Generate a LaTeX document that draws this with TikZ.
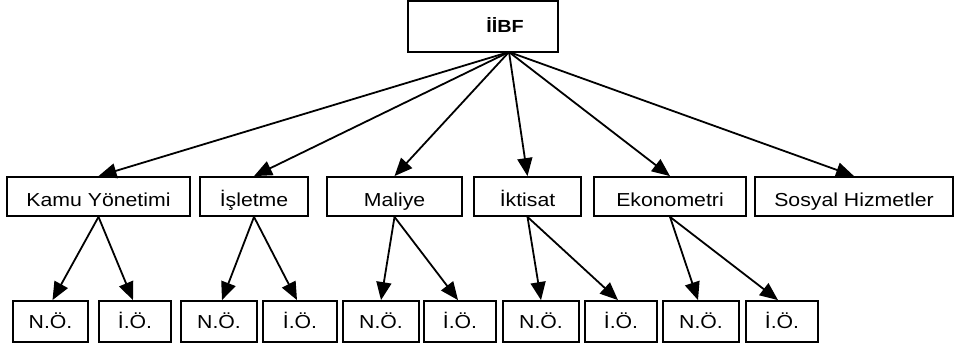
\documentclass[tikz,border=0pt]{standalone}
\usepackage{graphicx}
\usepackage{fontspec}
\setmainfont{Liberation Sans}
\usetikzlibrary{arrows.meta}
\newcommand\tx[1]{\scalebox{1.13}[1]{#1}}
\begin{document}
\begin{tikzpicture}[x=1pt,y=-1pt,
  box/.style={draw,line width=1.8pt,rectangle,inner sep=0pt,font=\fontsize{18.8}{20}\selectfont},
  mid/.style={box,minimum height=39pt,text height=19.3pt,text depth=0pt},
  leaf/.style={box,minimum height=41pt,text height=13.3pt,text depth=0pt},
  arr/.style={line width=1.8pt,-{Triangle[length=18pt,width=15pt]}}]
\useasboundingbox (0,0) rectangle (955,346);
\node[box,minimum width=150pt,minimum height=51pt,text height=11.5pt,text depth=0pt,font=\fontsize{17.5}{19}\selectfont\bfseries] (top) at (483,26.5) {\hspace*{44pt}\tx{İİBF}};
\coordinate (hub) at (509,52);
\node[mid,minimum width=183pt] (kamu) at (98.5,196.5) {\tx{Kamu Yönetimi}};
\node[mid,minimum width=108pt] (isl) at (254,196.5) {\tx{İşletme}};
\node[mid,minimum width=135pt] (mal) at (394.5,196.5) {\tx{Maliye}};
\node[mid,minimum width=107pt] (ikt) at (527.5,196.5) {\tx{İktisat}};
\node[mid,minimum width=152pt] (eko) at (670,196.5) {\tx{Ekonometri}};
\node[mid,minimum width=198pt] (sos) at (854,196.5) {\tx{Sosyal Hizmetler}};
\node[leaf,minimum width=75pt] (n1) at (50.5,321.5) {\tx{N.Ö.}};
\node[leaf,minimum width=72pt] (i1) at (135,321.5) {\tx{İ.Ö.}};
\node[leaf,minimum width=76pt] (n2) at (219,321.5) {\tx{N.Ö.}};
\node[leaf,minimum width=74pt] (i2) at (300,321.5) {\tx{İ.Ö.}};
\node[leaf,minimum width=76pt] (n3) at (381,321.5) {\tx{N.Ö.}};
\node[leaf,minimum width=72pt] (i3) at (460,321.5) {\tx{İ.Ö.}};
\node[leaf,minimum width=76pt] (n4) at (541,321.5) {\tx{N.Ö.}};
\node[leaf,minimum width=72pt] (i4) at (621,321.5) {\tx{İ.Ö.}};
\node[leaf,minimum width=76pt] (n5) at (701,321.5) {\tx{N.Ö.}};
\node[leaf,minimum width=72pt] (i5) at (782,321.5) {\tx{İ.Ö.}};
\foreach \m in {kamu,isl,mal,ikt,eko,sos} \draw[arr] (hub) -- (\m.north);
\draw[arr] (kamu.south) -- ([xshift=2pt]n1.north);
\draw[arr] (kamu.south) -- ([xshift=-2pt]i1.north);
\draw[arr] (isl.south) -- ([xshift=3pt]n2.north);
\draw[arr] (isl.south) -- ([xshift=-3pt]i2.north);
\draw[arr] (mal.south) -- (n3.north);
\draw[arr] (mal.south) -- ([xshift=-2pt]i3.north);
\draw[arr] (ikt.south) -- (n4.north);
\draw[arr] (ikt.south) -- ([xshift=-3pt]i4.north);
\draw[arr] (eko.south) -- ([xshift=-3pt]n5.north);
\draw[arr] (eko.south) -- ([xshift=-4pt]i5.north);
\end{tikzpicture}
\end{document}
